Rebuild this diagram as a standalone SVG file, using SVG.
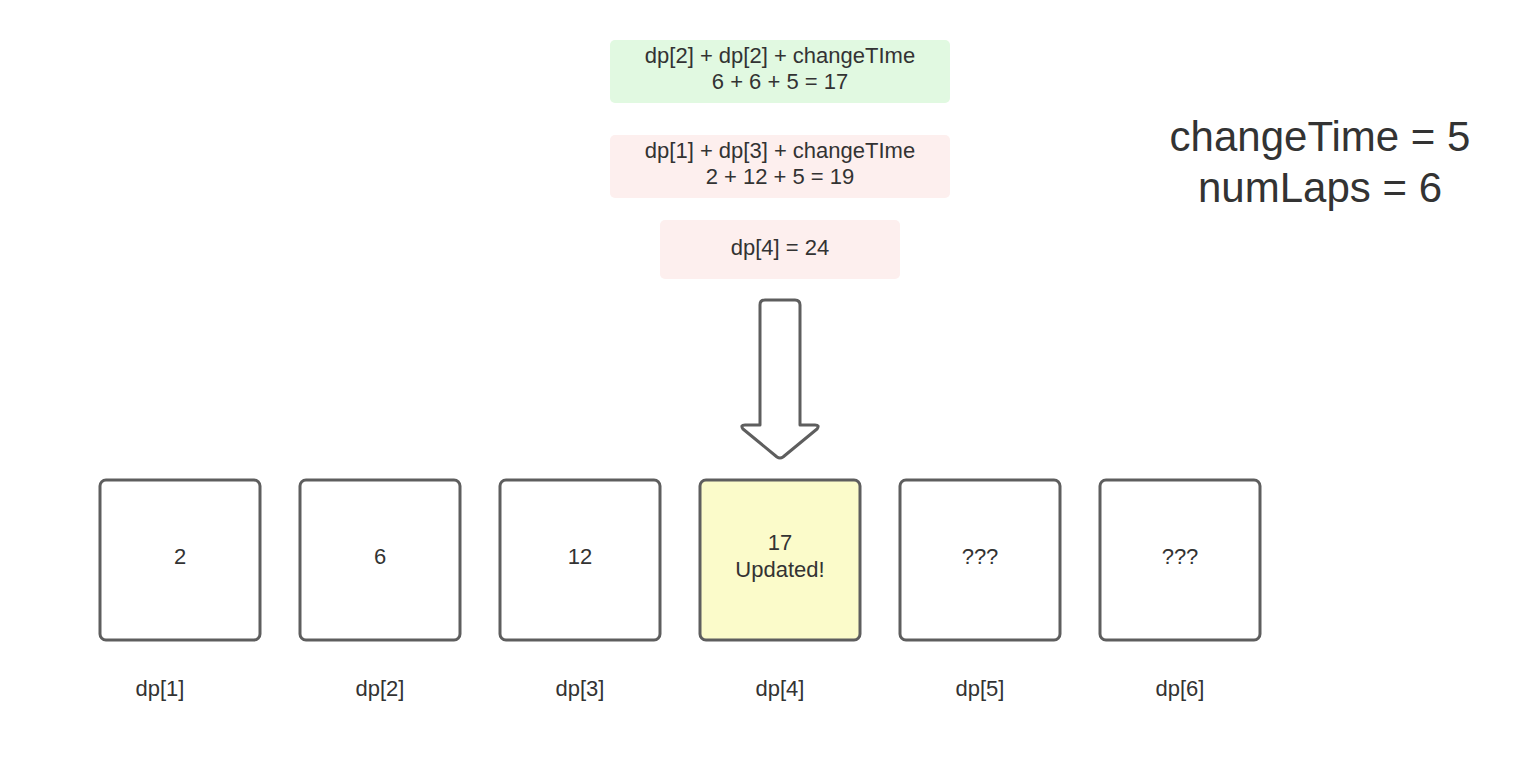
<svg xmlns="http://www.w3.org/2000/svg" width="1520" height="760" viewBox="0 0 1520 760">
<style>
text{font-family:"Liberation Sans",Arial,sans-serif;fill:#333;text-anchor:middle}
.t{font-size:22px}
.big{font-size:42px}
.box{fill:#fff;stroke:#5e5e5e;stroke-width:3}
.card{stroke:none}
</style>
<rect width="1520" height="760" fill="#fff"/>
<g id="formula1"><rect class="card" x="610" y="40" width="340" height="63" rx="5" fill="#e1f9e1"/><text class="t" x="780" y="63">dp[2] + dp[2] + changeTIme</text><text class="t" x="780" y="89">6 + 6 + 5 = 17</text></g>
<g id="formula2"><rect class="card" x="610" y="135" width="340" height="63" rx="5" fill="#fdefee"/><text class="t" x="780" y="158">dp[1] + dp[3] + changeTIme</text><text class="t" x="780" y="184">2 + 12 + 5 = 19</text></g>
<g id="formula3"><rect class="card" x="660" y="220" width="240" height="59" rx="5" fill="#fdefee"/><text class="t" x="780" y="255">dp[4] = 24</text></g>
<g id="params"><text class="big" x="1320" y="151">changeTime = 5</text><text class="big" x="1320" y="202">numLaps = 6</text></g>
<g id="connectors"><path d="M765 300 H795 Q800 300 800 305 V425 H815 Q820 425 817 429 L783 457 Q780 459 777 457 L743 429 Q740 425 745 425 H760 V305 Q760 300 765 300 Z" fill="#fff" stroke="#5e5e5e" stroke-width="3" stroke-linejoin="round"/></g>
<g id="dp1"><rect class="box" x="100" y="480" width="160" height="160" rx="6"/><text class="t" x="180" y="564">2</text><text class="t" x="160" y="696">dp[1]</text></g>
<g id="dp2"><rect class="box" x="300" y="480" width="160" height="160" rx="6"/><text class="t" x="380" y="564">6</text><text class="t" x="380" y="696">dp[2]</text></g>
<g id="dp3"><rect class="box" x="500" y="480" width="160" height="160" rx="6"/><text class="t" x="580" y="564">12</text><text class="t" x="580" y="696">dp[3]</text></g>
<g id="dp4"><rect class="box" x="700" y="480" width="160" height="160" rx="6" style="fill:#fbfbca"/><text class="t" x="780" y="550">17</text><text class="t" x="780" y="577">Updated!</text><text class="t" x="780" y="696">dp[4]</text></g>
<g id="dp5"><rect class="box" x="900" y="480" width="160" height="160" rx="6"/><text class="t" x="980" y="564">???</text><text class="t" x="980" y="696">dp[5]</text></g>
<g id="dp6"><rect class="box" x="1100" y="480" width="160" height="160" rx="6"/><text class="t" x="1180" y="564">???</text><text class="t" x="1180" y="696">dp[6]</text></g>
</svg>
